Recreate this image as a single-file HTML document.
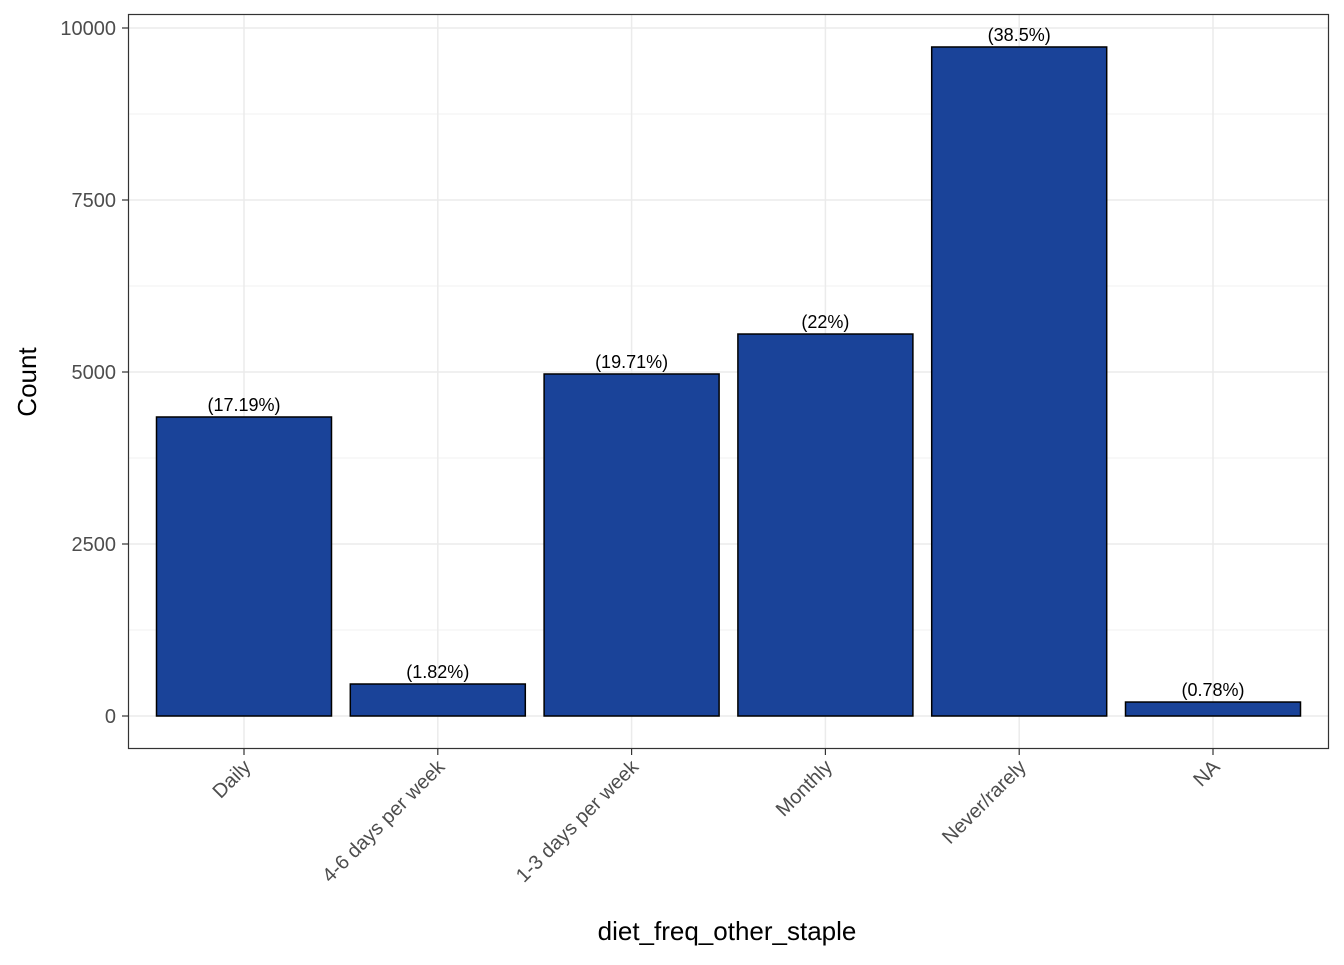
<!DOCTYPE html>
<html><head><meta charset="utf-8"><style>
body{margin:0;background:#fff}
svg{font-family:"Liberation Sans",Arial,sans-serif}
</style></head><body>
<svg width="1344" height="960">
<g id="grid"></g><g id="bars"></g><g id="axes"></g>
<rect x="128.5" y="14.5" width="1200" height="734" fill="none" stroke="#333" stroke-width="1.2"/>
<text x="727" y="940" text-anchor="middle" font-size="26" fill="#000">diet_freq_other_staple</text>
<text transform="translate(36,382) rotate(-90)" text-anchor="middle" font-size="26" fill="#000">Count</text>
</svg>
<script>
const categories=["Daily","4-6 days per week","1-3 days per week","Monthly","Never/rarely","NA"];
const counts=[4346,465,4971,5552,9724,203];
const pctLabels=["(17.19%)","(1.82%)","(19.71%)","(22%)","(38.5%)","(0.78%)"];
const yTicks=[0,2500,5000,7500,10000];
const NS="http://www.w3.org/2000/svg";
const y=v=>716-v*0.0688;
const x=i=>244+i*193.8;
const bw=175;
function mk(t,a,p){const e=document.createElementNS(NS,t);for(const k in a)e.setAttribute(k,a[k]);p.appendChild(e);return e;}
const g=document.getElementById('grid'),b=document.getElementById('bars'),ax=document.getElementById('axes');
for(let i=0;i<yTicks.length-1;i++){const m=(yTicks[i]+yTicks[i+1])/2;
const l=mk('line',{x1:129,x2:1328,y1:y(m),y2:y(m),stroke:'#f2f2f2','stroke-width':1},g);

}
yTicks.forEach(v=>{const l=mk('line',{x1:129,x2:1328,y1:y(v),y2:y(v),stroke:'#ebebeb','stroke-width':1.5},g);


const t=mk('line',{x1:122,x2:128,y1:y(v),y2:y(v),stroke:'#333','stroke-width':1.2},ax);


const tx=mk('text',{x:116,y:y(v)+7,'text-anchor':'end','font-size':20,fill:'#4d4d4d'},ax);tx.textContent=v;

});
categories.forEach((c,i)=>{
const gl=mk('line',{x1:x(i),x2:x(i),y1:15,y2:748,stroke:'#ebebeb','stroke-width':1.5},g);


const r=mk('rect',{x:x(i)-bw/2,y:y(counts[i]),width:bw,height:y(0)-y(counts[i]),fill:'#1a4399',stroke:'#000','stroke-width':1.5},b);


const p=mk('text',{x:x(i),y:y(counts[i])-6,'text-anchor':'middle','font-size':18,fill:'#000'},b);p.textContent=pctLabels[i];


const t=mk('line',{x1:x(i),x2:x(i),y1:748,y2:755,stroke:'#333','stroke-width':1.2},ax);


const lb=mk('text',{transform:`translate(${x(i)+8},${768}) rotate(-45)`,'text-anchor':'end','font-size':20,fill:'#4d4d4d'},ax);lb.textContent=c;


});
</script>
</body></html>
